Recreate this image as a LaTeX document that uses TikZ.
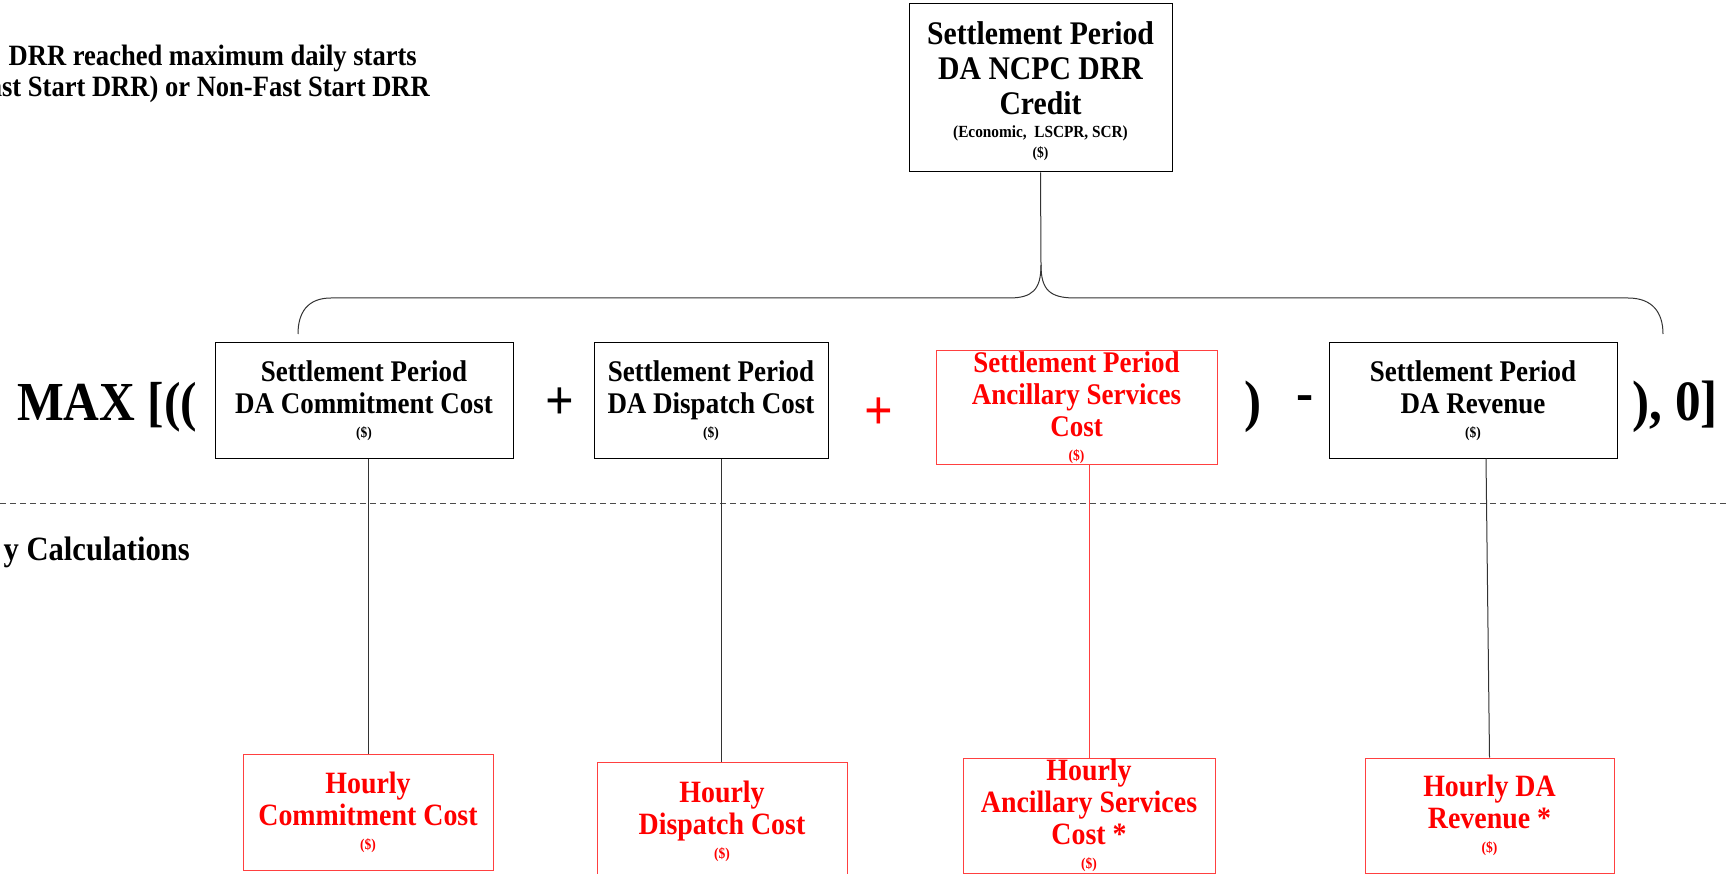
\documentclass[tikz,border=0pt]{standalone}
\usepackage{fontspec}
\setmainfont{Liberation Serif}[FakeStretch=0.9]
\usetikzlibrary{calc}
\newcommand\fsz[2]{\fontsize{#1}{#2}\selectfont}
\tikzset{
  box/.style={draw=black, line width=1pt, inner sep=0pt, align=center, font=\bfseries\fsz{30}{32}},
  redbox/.style={box, draw=red!75, text=red, font=\bfseries\fsz{31}{32}},
  conn/.style={line width=1pt, draw=black!80},
  redconn/.style={line width=1pt, draw=red!75},
  sym/.style={inner sep=0pt, font=\bfseries},
  dline/.style={line width=0.8pt, draw=black!70, dash pattern=on 6pt off 4pt}
}
\begin{document}
\begin{tikzpicture}[x=1pt,y=-1pt]
\useasboundingbox (0,0) rectangle (1729,874);
% top-left clipped text
\node[sym, anchor=base east] (tl1) at (417,66) {\fsz{29.5}{31}DRR reached maximum daily starts};
\node[sym, anchor=base east] (tl2) at (430,97) {\fsz{29.5}{31}ast Start DRR) or Non-Fast Start DRR};
\node[sym, anchor=base east] (calc) at (190,560) {\fsz{34}{38}y Calculations};
% top box
\node[box, font=\bfseries\fsz{33}{35}, minimum width=263pt, minimum height=168pt] (top) at (1040.5,88)
  {\rule{0pt}{30pt}Settlement Period\\DA NCPC DRR\\Credit\\[-12pt]{\fsz{17}{20}(Economic,\ \ LSCPR, SCR)}\\[-15pt]{\fsz{15}{18}(\$)}};
% middle row
\node[sym, anchor=base west] (max) at (17,420) {\fsz{55}{60}MAX [((};
\node[box, minimum width=298pt, minimum height=115pt] (m1) at (364,400.5)
  {Settlement Period\\DA Commitment Cost\\[-8pt]{\fsz{15}{18}(\$)}};
\node[sym] (p1) at (560,404) {\fsz{56}{58}+};
\node[box, minimum width=234pt, minimum height=115pt] (m2) at (711,400.5)
  {Settlement Period\\DA Dispatch Cost\\[-8pt]{\fsz{15}{18}(\$)}};
\node[sym, text=red] (p2) at (879,414) {\fsz{56}{58}+};
\node[redbox, font=\bfseries\fsz{30}{32}, minimum width=281pt, minimum height=113pt] (m3) at (1076.5,407.5)
  {Settlement Period\\Ancillary Services\\Cost\\[-8pt]{\fsz{15}{18}(\$)}};
\node[sym, anchor=base] (rp) at (1253,420) {\fsz{57}{60})};
\node[sym] (mn) at (1305,404) {\fsz{57}{60}-};
\node[box, minimum width=288pt, minimum height=115pt] (m4) at (1473,400.5)
  {Settlement Period\\DA Revenue\\[-8pt]{\fsz{15}{18}(\$)}};
\node[sym, anchor=base east] (end) at (1718,420) {\fsz{57}{60}), 0]};
% bottom row
\node[redbox, minimum width=250pt, minimum height=116pt] (b1) at (368,812)
  {Hourly\\Commitment Cost\\[-8pt]{\fsz{15}{18}(\$)}};
\node[redbox, minimum width=250pt, minimum height=118pt] (b2) at (722,821)
  {Hourly\\Dispatch Cost\\[-8pt]{\fsz{15}{18}(\$)}};
\node[redbox, minimum width=252pt, minimum height=115pt] (b3) at (1089,815.5)
  {Hourly\\Ancillary Services\\Cost *\\[-8pt]{\fsz{15}{18}(\$)}};
\node[redbox, minimum width=249pt, minimum height=115pt] (b4) at (1489.5,815.5)
  {Hourly DA\\Revenue *\\[-8pt]{\fsz{15}{18}(\$)}};
% dashed separator
\coordinate (dl) at (0,503);
\coordinate (dr) at (1729,503);
\draw[dline] (dl) -- (dr);
% brace
\coordinate (tip) at (1041,265);
\coordinate (bl) at (298,334);
\coordinate (br) at (1663,334);
\draw[conn] (top.south) -- (tip);
\draw[conn] (tip) .. controls (1041,290) and (1032,298) .. (1009,298) -- (331,298)
  .. controls (308,298) and (298,312) .. (bl);
\draw[conn] (tip) .. controls (1041,290) and (1050,298) .. (1075,298) -- (1628,298)
  .. controls (1652,298) and (1663,312) .. (br);
% vertical connectors
\draw[conn] ($(m1.south)+(4,0)$) -- (b1.north);
\draw[conn] ($(m2.south)+(10,0)$) -- ($(b2.north)+(-1,0)$);
\draw[redconn] ($(m3.south)+(12.5,0)$) -- (b3.north);
\draw[conn] ($(m4.south)+(13,0)$) -- (b4.north);
\end{tikzpicture}
\end{document}
